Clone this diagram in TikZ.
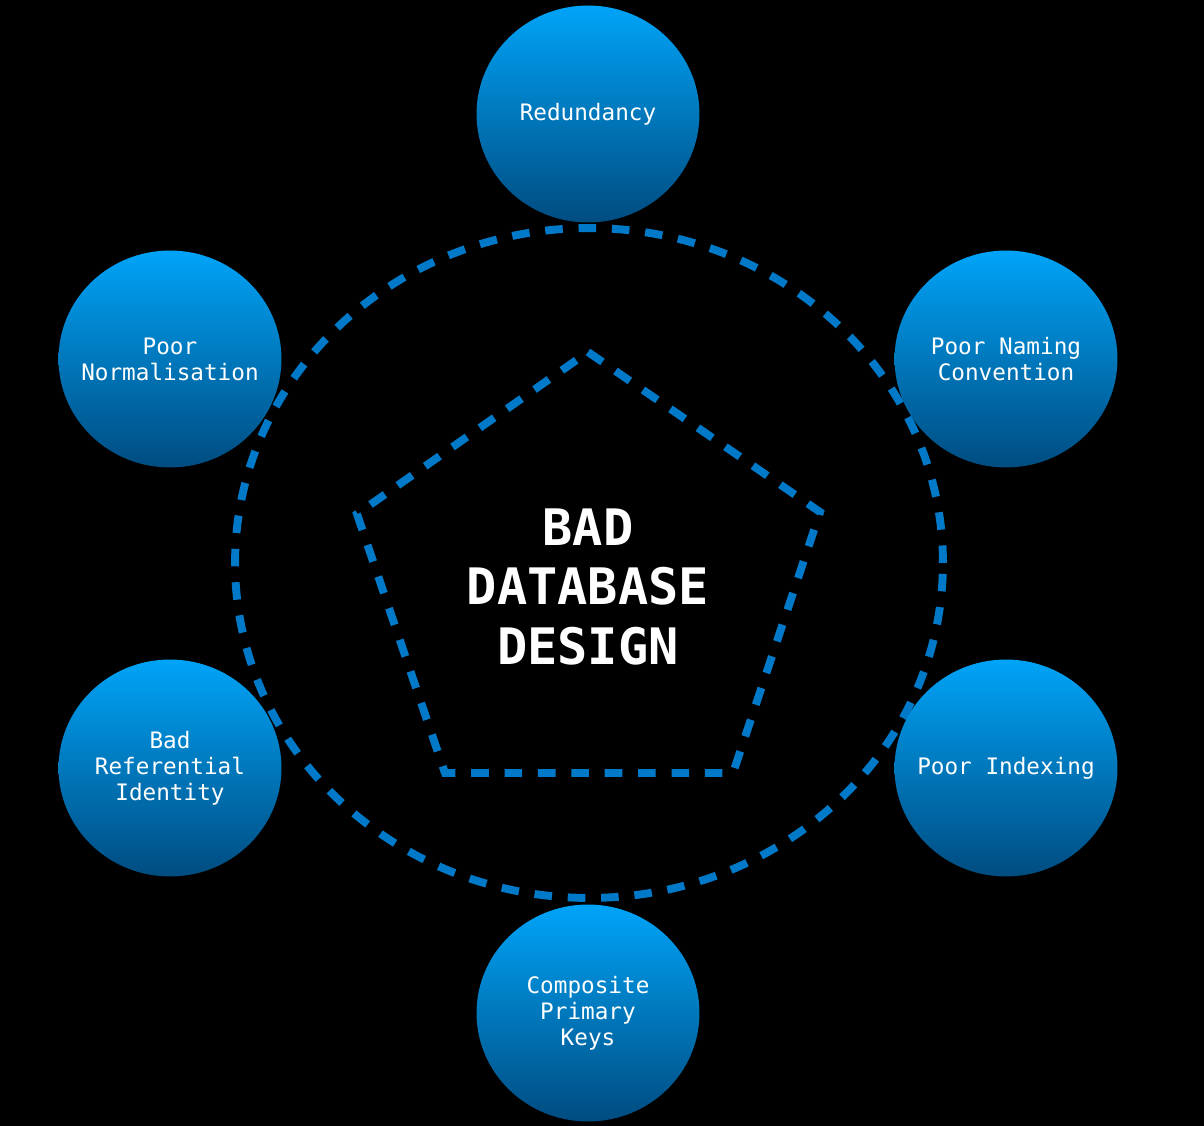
\documentclass[tikz,border=0pt]{standalone}
\usepackage{fontspec}
\setmonofont{DejaVu Sans Mono}
\usetikzlibrary{positioning,shapes.geometric}
\definecolor{ringblue}{RGB}{0,122,200}
\definecolor{toptone}{RGB}{0,164,248}
\definecolor{bottone}{RGB}{0,76,128}
\tikzset{
  topic/.style={ellipse,minimum width=4.46cm,minimum height=4.34cm,inner xsep=-0.6cm,inner ysep=0pt,
    top color=toptone,bottom color=bottone,
    text=white,align=center,font=\ttfamily\fontsize{12.9}{14.7}\selectfont},
  ring/.style={draw=ringblue,line width=4.5pt,dash pattern=on 10pt off 9pt}
}

\begin{document}
\begin{tikzpicture}[x=0.02cm,y=-0.02cm]
\fill[black] (0,0) rectangle (1204,1126);
\useasboundingbox (0,0) rectangle (1204,1126);
\coordinate (c) at (589,563);
\coordinate (p1) at (588,352);
\coordinate (p2) at (820,512);
\coordinate (p3) at (733,773);
\coordinate (p4) at (445,773);
\coordinate (p5) at (357,514);
\draw[ring] (c) ellipse [x radius=7.08cm,y radius=6.7cm];
\draw[ring] (p1) -- (p2) -- (p3) -- (p4) -- (p5) -- cycle;
\node[text=white,align=center,font=\ttfamily\bfseries\fontsize{28.6}{34}\selectfont] (t) at (588,587) {BAD\\DATABASE\\DESIGN};
\node[topic] (n0) at (588,114) {Redundancy};
\node[topic] (n1) at (1006,359) {Poor Naming\\Convention};
\node[topic] (n2) at (1006,768) {Poor Indexing};
\node[topic] (n3) at (588,1013) {Composite\\Primary\\Keys};
\node[topic] (n4) at (170,768) {Bad\\Referential\\Identity};
\node[topic] (n5) at (170,359) {Poor\\Normalisation};
\end{tikzpicture}
\end{document}
